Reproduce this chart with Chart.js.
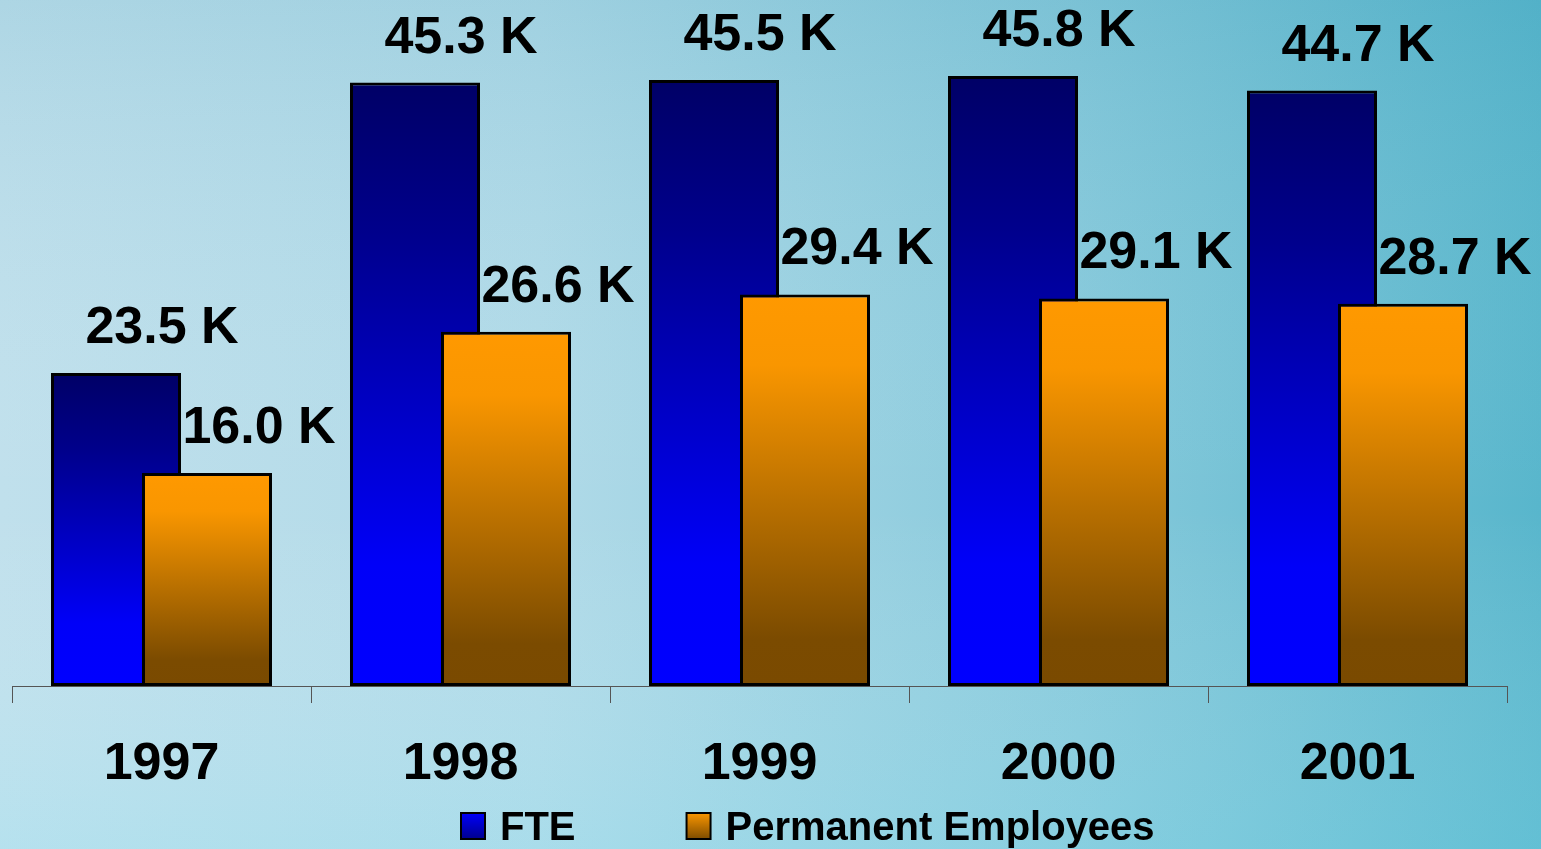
<!DOCTYPE html>
<html>
<head>
<meta charset="utf-8">
<script src="https://cdn.jsdelivr.net/npm/chart.js@4.4.1/dist/chart.umd.min.js"></script>
<style>
  html, body { margin: 0; padding: 0; overflow: hidden; }
  #wrap { width: 1541px; height: 849px; }
</style>
</head>
<body>
<div id="wrap"><canvas id="chart"></canvas></div>
<script>
// chart data (thousands)
const years = ['1997', '1998', '1999', '2000', '2001'];
const fteValues = [23.5, 45.3, 45.5, 45.8, 44.7];
const permanentValues = [16.0, 26.6, 29.4, 29.1, 28.7];
const seriesNames = ['FTE', 'Permanent Employees'];

const FONT = '"Liberation Sans", Arial, sans-serif';

// per-bar vertical gradient, built from the bar's own pixel extent
function barGradient(stops) {
    return (context) => {
        const chart = context.chart;
        const area = chart.chartArea;
        if (!area || context.type !== 'data') return stops[0][1];
        const y = chart.scales.y;
        const top = y.getPixelForValue(context.raw);
        const base = y.getPixelForValue(0);
        const g = chart.ctx.createLinearGradient(0, top, 0, base);
        stops.forEach(s => g.addColorStop(s[0], s[1]));
        return g;
    };
}

const blueStops = [[0, '#000066'], [0.25, '#00008c'], [0.8, '#0000f8'], [1, '#0000ff']];
const orangeStops = [[0, '#ff9900'], [0.18, '#f99600'], [0.88, '#7b4b00'], [1, '#7a4a00']];

// background of the slide
const backgroundPlugin = {
    id: 'slideBackground',
    beforeDraw(chart) {
        const { ctx, width, height } = chart;
        ctx.save();
        const g = ctx.createLinearGradient(0, 0, width, 0);
        g.addColorStop(0, '#c0e0ec');
        g.addColorStop(0.35, '#b0dae8');
        g.addColorStop(0.7, '#86c9db');
        g.addColorStop(1, '#58b6cc');
        ctx.fillStyle = g;
        ctx.fillRect(0, 0, width, height);
        const v = ctx.createLinearGradient(0, 0, 0, height);
        v.addColorStop(0, 'rgba(40,140,170,0.12)');
        v.addColorStop(0.6, 'rgba(255,255,255,0)');
        v.addColorStop(1, 'rgba(140,230,245,0.2)');
        ctx.fillStyle = v;
        ctx.fillRect(0, 0, width, height);
        ctx.restore();
    }
};

// Chart.js paints the first dataset on top; here the second one must overlap the first
const drawOrderPlugin = {
    id: 'drawOrder',
    beforeDatasetDraw(chart, args) {
        if (args.index === 1 && !chart.$secondPass) return false;
    },
    afterDatasetsDraw(chart) {
        chart.$secondPass = true;
        chart.getDatasetMeta(1).controller.draw();
        chart.$secondPass = false;
    }
};

// "45.3 K" style labels above each bar
const valueLabelPlugin = {
    id: 'valueLabels',
    afterDatasetsDraw(chart) {
        const ctx = chart.ctx;
        ctx.save();
        ctx.font = 'bold 52px ' + FONT;
        ctx.fillStyle = '#000';
        ctx.textAlign = 'center';
        ctx.textBaseline = 'alphabetic';
        chart.data.datasets.forEach((ds, di) => {
            chart.getDatasetMeta(di).data.forEach((bar, i) => {
                ctx.fillText(ds.data[i].toFixed(1) + ' K', bar.x + (di === 0 ? 46 : 52), bar.y - 30);
            });
        });
        ctx.restore();
    }
};

// legend under the axis labels
const legendPlugin = {
    id: 'bottomLegend',
    afterDraw(chart) {
        const ctx = chart.ctx;
        const fills = [['#0000ff', '#00008a'], ['#ff9900', '#7a4a00']];
        ctx.save();
        ctx.font = 'bold 40px ' + FONT;
        ctx.textBaseline = 'alphabetic';
        let x = 460;
        const top = 812;
        chart.data.datasets.forEach((ds, i) => {
            const g = ctx.createLinearGradient(0, top, 0, top + 28);
            g.addColorStop(0, fills[i][0]);
            g.addColorStop(1, fills[i][1]);
            ctx.fillStyle = '#000';
            ctx.fillRect(x, top, 26, 28);
            ctx.fillStyle = g;
            ctx.fillRect(x + 2, top + 2, 22, 24);
            ctx.fillStyle = '#000';
            ctx.fillText(ds.label, x + 40, top + 28);
            x += 40 + ctx.measureText(ds.label).width + 110;
        });
        ctx.restore();
    }
};

new Chart(document.getElementById('chart'), {
    type: 'bar',
    data: {
        labels: years,
        datasets: [
            {
                label: seriesNames[0],
                data: fteValues,
                backgroundColor: barGradient(blueStops),
                borderColor: '#000',
                borderWidth: 3,
                borderSkipped: false
            },
            {
                label: seriesNames[1],
                data: permanentValues,
                backgroundColor: barGradient(orangeStops),
                borderColor: '#000',
                borderWidth: 3,
                borderSkipped: false
            }
        ]
    },
    options: {
        responsive: true,
        maintainAspectRatio: false,
        animation: false,
        categoryPercentage: 0.6087,
        barPercentage: 1.4286,
        layout: { padding: { left: 12, right: 34, top: 20, bottom: 0 } },
        plugins: {
            legend: { display: false },
            tooltip: { enabled: false }
        },
        scales: {
            x: {
                afterFit(scale) { scale.height = 163; },
                grid: {
                    drawOnChartArea: false,
                    tickLength: 17,
                    color: '#555',
                    lineWidth: 1
                },
                border: { color: '#555', width: 1 },
                ticks: {
                    color: '#000',
                    padding: 30,
                    font: { family: FONT, size: 52, weight: 'bold' }
                }
            },
            y: {
                display: false,
                min: 0,
                max: 50
            }
        }
    },
    plugins: [backgroundPlugin, drawOrderPlugin, valueLabelPlugin, legendPlugin]
});
</script>
</body>
</html>
